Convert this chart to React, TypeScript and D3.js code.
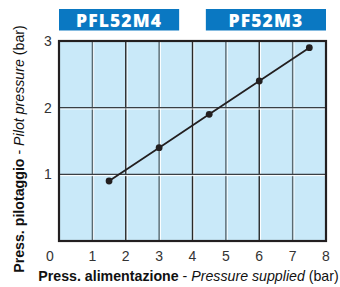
import React from "react";
import * as d3 from "d3";

const xTicks = [1, 2, 3, 4, 5, 6, 7, 8];
const yTicks = [1, 2, 3];
const supplied = [1.5, 3, 4.5, 6, 7.5];
const pilot = [0.9, 1.4, 1.9, 2.4, 2.9];
const headers = ["PFL52M4", "PF52M3"];
const headerRanges = [[0, 3.6], [4.4, 8]];

export default function App() {
  const W = 340, H = 287;
  const left = 59, right = 326, top = 41, bottom = 241;
  const x = d3.scaleLinear().domain([0, 8]).range([left, right]);
  const y = d3.scaleLinear().domain([0, 3]).range([bottom, top]);
  const line = d3.line<number>().x((_, i) => x(supplied[i])).y((d) => y(d));
  const font = "'Liberation Sans', Arial, sans-serif";
  return (
    <svg width={W} height={H} style={{ position: "absolute", left: 0, top: 0 }}>
      <rect x={0} y={0} width={W} height={H} fill="#fff" />
      {headers.map((h, i) => (
        <g key={h}>
          <rect x={x(headerRanges[i][0])} y={9} width={x(headerRanges[i][1]) - x(headerRanges[i][0])} height={21.5} fill="#0a78c2" />
          <text x={(x(headerRanges[i][0]) + x(headerRanges[i][1])) / 2} y={26.5} textAnchor="middle" fill="#fff"
            fontFamily="'Open Sans', sans-serif" fontWeight="800" fontSize={17.5} letterSpacing={1.1}>{h}</text>
        </g>
      ))}
      <rect x={left} y={top} width={right - left} height={bottom - top} fill="#c9e9f9" />
      {xTicks.slice(0, -1).map((t) => (
        <g key={"vx" + t}>
          <line x1={x(t) + 1.3} x2={x(t) + 1.3} y1={top} y2={bottom} stroke="#fff" strokeWidth={1} />
          <line x1={x(t)} x2={x(t)} y1={top} y2={bottom} stroke={t % 2 === 0 ? "#2a2a2a" : "#5a6a72"} strokeWidth={1.4} />
        </g>
      ))}
      {yTicks.slice(0, -1).map((t) => (
        <g key={"hy" + t}>
          <line x1={left} x2={right} y1={y(t) + 1.3} y2={y(t) + 1.3} stroke="#fff" strokeWidth={1} />
          <line x1={left} x2={right} y1={y(t)} y2={y(t)} stroke="#3a3f44" strokeWidth={1.4} />
        </g>
      ))}
      <rect x={left} y={top} width={right - left} height={bottom - top} fill="none" stroke="#231f20" strokeWidth={2.2} />
      <path d={line(pilot) || ""} fill="none" stroke="#231f20" strokeWidth={1.8} />
      {pilot.map((p, i) => (
        <circle key={i} cx={x(supplied[i])} cy={y(p)} r={3.4} fill="#231f20" />
      ))}
      {xTicks.map((t) => (
        <text key={"xt" + t} x={x(t)} y={261} textAnchor="middle" fontFamily={font} fontSize={14} fill="#333">{t}</text>
      ))}
      <text x={50} y={261} textAnchor="middle" fontFamily={font} fontSize={14} fill="#333">0</text>
      {yTicks.map((t) => (
        <text key={"yt" + t} x={48} y={y(t) + 5} textAnchor="middle" fontFamily={font} fontSize={14} fill="#333">{t}</text>
      ))}
      <text x={188.5} y={281} textAnchor="middle" fontFamily={font} fontSize={14.2} fill="#111">
        <tspan fontWeight="bold">Press. alimentazione</tspan>
        <tspan> - </tspan>
        <tspan fontStyle="italic">Pressure supplied</tspan>
        <tspan> (bar)</tspan>
      </text>
      <text transform="translate(24,149) rotate(-90)" textAnchor="middle" fontFamily={font} fontSize={14.2} fill="#111">
        <tspan fontWeight="bold">Press. pilotaggio</tspan>
        <tspan> - </tspan>
        <tspan fontStyle="italic">Pilot pressure</tspan>
        <tspan> (bar)</tspan>
      </text>
    </svg>
  );
}
